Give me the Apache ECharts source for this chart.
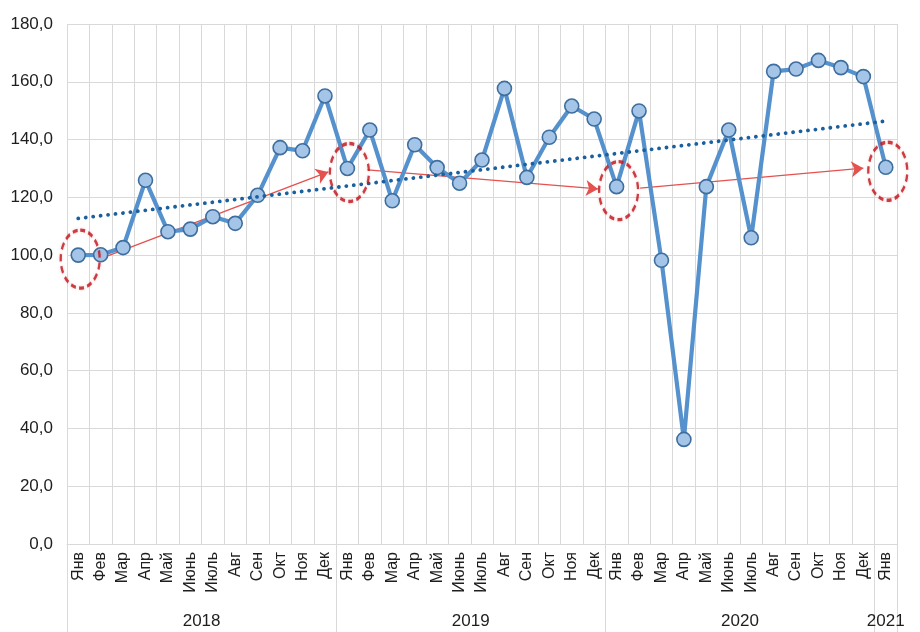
<!DOCTYPE html>
<html>
<head>
<meta charset="utf-8">
<script src="https://cdn.jsdelivr.net/npm/echarts@6/dist/echarts.min.js"></script>
<style>
html,body{margin:0;padding:0;background:#fff;}
#chart{width:920px;height:632px;}
</style>
</head>
<body>
<div id="chart"></div>
<script>
// ---- data ----
var months = ['Янв','Фев','Мар','Апр','Май','Июнь','Июль','Авг','Сен','Окт','Ноя','Дек',
              'Янв','Фев','Мар','Апр','Май','Июнь','Июль','Авг','Сен','Окт','Ноя','Дек',
              'Янв','Фев','Мар','Апр','Май','Июнь','Июль','Авг','Сен','Окт','Ноя','Дек',
              'Янв'];
var years = ['2018','2019','2020','2021'];
var yearMonthCounts = [12, 12, 12, 1];
var values = [100.0, 100.1, 102.6, 125.9, 108.1, 109.0, 113.3, 111.0, 120.7, 137.2, 136.1, 155.1,
              130.0, 143.3, 118.8, 138.2, 130.3, 124.9, 132.9, 157.7, 126.9, 140.8, 151.6, 147.1,
              123.7, 149.9, 98.2, 36.2, 123.7, 143.3, 106.0, 163.6, 164.4, 167.4, 164.9, 161.8,
              130.4];
var highlightIdx = [0, 12, 24, 36];
var trendStart = [0, 112.7];
var trendEnd = [36, 146.4];
var arrows = [
  [[0.94, 98.6], [11.15, 128.8]],
  [[12.9, 129.5], [23.17, 122.9]],
  [[25.05, 123.2], [35.0, 130.1]]
];

// ---- derived year layout (value axis spans category bands) ----
var yearCenters = [], yearBounds = [-0.5], acc = 0;
yearMonthCounts.forEach(function (n) {
  yearCenters.push(acc + (n - 1) / 2);
  acc += n;
  yearBounds.push(acc - 0.5);
});

var FONT = '"Liberation Sans", Arial, sans-serif';
var GRIDC = '#d9d9d9';

var chart = echarts.init(document.getElementById('chart'), null, {renderer: 'canvas'});
chart.setOption({
  animation: false,
  backgroundColor: '#ffffff',
  grid: {left: 67, right: 23, top: 24, bottom: 88, containLabel: false},
  xAxis: [
    {
      type: 'category',
      position: 'bottom',
      data: months,
      boundaryGap: true,
      axisLine: {show: true, lineStyle: {color: GRIDC, width: 1}},
      axisTick: {show: false},
      splitLine: {show: true, lineStyle: {color: GRIDC, width: 1}},
      axisLabel: {interval: 0, rotate: 90, margin: 8, fontSize: 16, color: '#1e1e1e', fontFamily: FONT}
    },
    {
      type: 'value',
      position: 'bottom',
      min: -0.5,
      max: months.length - 0.5,
      axisLine: {show: false},
      splitLine: {show: false},
      axisTick: {show: true, customValues: yearBounds, length: 88, lineStyle: {color: GRIDC, width: 1}},
      axisLabel: {
        show: true,
        customValues: yearCenters,
        margin: 69,
        fontSize: 17,
        color: '#1e1e1e',
        fontFamily: FONT,
        formatter: function (v) {
          for (var i = 0; i < yearCenters.length; i++) {
            if (Math.abs(yearCenters[i] - v) < 1e-6) return years[i];
          }
          return '';
        }
      }
    }
  ],
  yAxis: {
    type: 'value',
    min: 0,
    max: 180,
    interval: 20,
    axisLine: {show: false},
    axisTick: {show: false},
    splitLine: {show: true, lineStyle: {color: GRIDC, width: 1}},
    axisLabel: {
      margin: 14, fontSize: 17, color: '#1e1e1e', fontFamily: FONT,
      formatter: function (v) { return v.toFixed(1).replace('.', ','); }
    }
  },
  series: [
    {
      name: 'arrows',
      type: 'lines',
      coordinateSystem: 'cartesian2d',
      xAxisIndex: 1,
      yAxisIndex: 0,
      z: 2,
      symbol: ['none', 'arrow'],
      symbolSize: [10, 12],
      lineStyle: {color: '#e4514f', width: 1.3, opacity: 1, curveness: 0},
      data: arrows.map(function (a) { return {coords: a}; })
    },
    {
      name: 'main',
      type: 'line',
      xAxisIndex: 0,
      yAxisIndex: 0,
      z: 3,
      data: values,
      symbol: 'circle',
      symbolSize: 14,
      showAllSymbol: true,
      lineStyle: {color: '#5591cc', width: 4.2},
      itemStyle: {color: '#a4c5e8', borderColor: '#3e6e9e', borderWidth: 1.6}
    },
    {
      name: 'trend',
      type: 'line',
      xAxisIndex: 1,
      yAxisIndex: 0,
      z: 4,
      symbol: 'none',
      data: [trendStart, trendEnd],
      lineStyle: {color: '#1a5f9e', width: 3.8, type: [0.1, 7.4], cap: 'round'}
    },
    {
      name: 'highlight',
      type: 'scatter',
      xAxisIndex: 0,
      yAxisIndex: 0,
      z: 5,
      symbol: 'path://M0,-1A1,1,0,1,1,0,1A1,1,0,1,1,0,-1Z',
      symbolSize: [39, 58],
      symbolOffset: [2, 4],
      data: highlightIdx.map(function (i) { return [i, values[i]]; }),
      itemStyle: {
        color: 'rgba(0,0,0,0)',
        borderColor: '#c0141b',
        borderWidth: 2.8,
        borderType: [6, 4],
        shadowBlur: 3,
        shadowColor: 'rgba(200,40,40,0.3)'
      }
    }
  ]
});
</script>
</body>
</html>
